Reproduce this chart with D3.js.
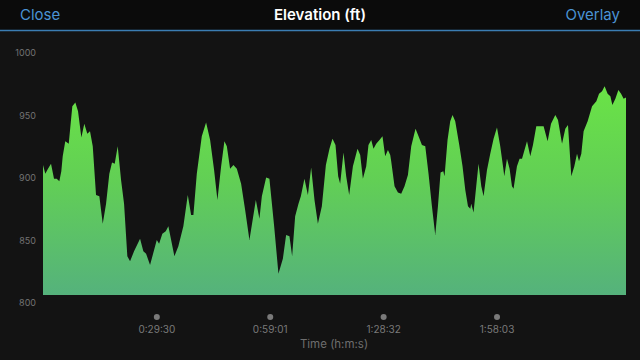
<!DOCTYPE html>
<html><head><meta charset="utf-8">
<script src="https://cdn.jsdelivr.net/npm/d3@7"></script>
<style>html,body{margin:0;padding:0;background:#131313;}svg{display:block;}</style>
</head><body>
<svg id="c" width="640" height="360"></svg>
<script>
// elapsed time (s)
const times = [0,36,78,125,172,214,255,286,308,348,402,458,505,547,599,645,692,734,777,828,880,933,985,1036,1078,1120,1167,1219,1266,1317,1360,1422,1516,1567,1610,1672,1777,1813,1864,1917,1958,2052,2114,2192,2261,2313,2349,2402,2480,2547,2610,2672,2724,2782,2833,2871,2922,2974,3027,3094,3157,3224,3324,3380,3418,3485,3536,3610,3677,3746,3797,3849,3891,3938,3990,4027,4083,4137,4188,4240,4293,4355,4418,4474,4521,4568,4610,4641,4693,4735,4782,4840,4912,4954,4996,5048,5083,5126,5162,5204,5255,5302,5344,5387,5423,5438,5490,5543,5594,5646,5699,5751,5818,5865,5918,5970,6021,6074,6126,6168,6209,6251,6271,6318,6360,6396,6438,6501,6552,6595,6637,6673,6688,6724,6766,6802,6845,6881,6934,6985,7037,7090,7141,7184,7204,7246,7287,7324,7349,7402,7443,7481,7559,7610,7652,7704,7818,7881,7934,8001,8043,8106,8157,8199,8251,8298,8340,8371,8407,8443,8506,8575,8642,8684,8731,8771,8818,8861,8892,8939,8986,9028,9068,9105];
// elevation (ft)
const elevation = [904,897,901,905,893,893,891,899,911,923,921,951,954,947,926,937,929,931,919,880,879,857,873,897,906,905,919,892,873,831,827,835,845,835,833,824,844,841,849,851,855,831,839,855,880,864,864,897,927,938,924,900,876,903,923,919,901,904,901,889,868,844,876,861,879,894,893,855,817,829,848,847,831,863,873,879,893,880,902,876,857,871,904,917,925,920,895,889,914,895,880,903,917,912,893,903,920,924,917,921,924,927,911,916,912,907,887,882,881,887,896,919,933,927,920,919,897,871,848,871,898,899,895,924,939,944,939,920,903,884,871,869,873,866,887,905,887,879,900,913,925,934,919,903,895,909,901,887,885,903,909,909,923,911,920,935,935,923,937,944,940,921,933,936,895,903,913,907,913,931,939,951,955,961,963,967,961,959,952,957,964,961,957,958];
const yTicks = [800,850,900,950,1000];
const xTicks = [1770,3541,5312,7083];
const xTickLabels = ["0:29:30","0:59:01","1:28:32","1:58:03"];
const title = "Elevation (ft)";
const leftBtn = "Close", rightBtn = "Overlay";
const xTitle = "Time (h:m:s)";

const data = times.map((t,i)=>({t, e: elevation[i]}));
const svg = d3.select("#c");
const font = "Inter, 'Noto Sans', sans-serif";

svg.append("rect").attr("width",640).attr("height",360).attr("fill","#131313");
svg.append("rect").attr("width",640).attr("height",30).attr("fill","#0b0b0b");
svg.append("line").attr("x1",0).attr("x2",640).attr("y1",30.5).attr("y2",30.5)
  .attr("stroke","#3b7db3").attr("stroke-width",1.5);

svg.append("text").attr("x",20).attr("y",20).text(leftBtn)
  .attr("font-family",font).attr("font-size",15).attr("fill","#4a93d4");
svg.append("text").attr("x",620).attr("y",20).attr("text-anchor","end").text(rightBtn)
  .attr("font-family",font).attr("font-size",15).attr("fill","#4a93d4");
svg.append("text").attr("x",320).attr("y",20).attr("text-anchor","middle").text(title)
  .attr("font-family",font).attr("font-size",15).attr("font-weight","600").attr("fill","#ffffff");

const x = d3.scaleLinear().domain([0, d3.max(times)]).range([43, 626]);
const y = d3.scaleLinear().domain([800, 1000]).range([295, 45]);

const defs = svg.append("defs");
const g = defs.append("linearGradient").attr("id","gr").attr("x1",0).attr("x2",0).attr("y1",0).attr("y2",1);
g.append("stop").attr("offset","0%").attr("stop-color","#6ae346");
g.append("stop").attr("offset","45%").attr("stop-color","#62cf55");
g.append("stop").attr("offset","100%").attr("stop-color","#55b27c");

const area = d3.area().x(d=>x(d.t)).y0(y(800)).y1(d=>y(d.e)).curve(d3.curveLinear);
svg.append("path").datum(data).attr("d",area).attr("fill","url(#gr)");

// y axis labels
const yAxis = d3.axisLeft(y).tickValues(yTicks).tickSize(0).tickPadding(0).tickFormat(d3.format("d"));
const ya = svg.append("g").attr("transform","translate(36,8)").call(yAxis);
ya.select(".domain").remove();
ya.selectAll("text").attr("font-family",font).attr("font-size",9).attr("fill","#727272");

// x axis: dots + labels
const xAxis = d3.axisBottom(x).tickValues(xTicks).tickSize(0).tickPadding(0)
  .tickFormat((d,i)=>xTickLabels[i]);
const xa = svg.append("g").attr("transform","translate(0,0)").call(xAxis);
xa.select(".domain").remove();
xa.selectAll("text").attr("font-family",font).attr("font-size",10).attr("fill","#7a7a7a")
  .attr("y",333).attr("dy","0");
xa.selectAll(".tick").append("circle").attr("cy",317).attr("r",3).attr("fill","#7a7a7a");

svg.append("text").attr("x",334).attr("y",348).attr("text-anchor","middle").text(xTitle)
  .attr("font-family",font).attr("font-size",11.5).attr("fill","#6e6e6e");
</script>
</body></html>
